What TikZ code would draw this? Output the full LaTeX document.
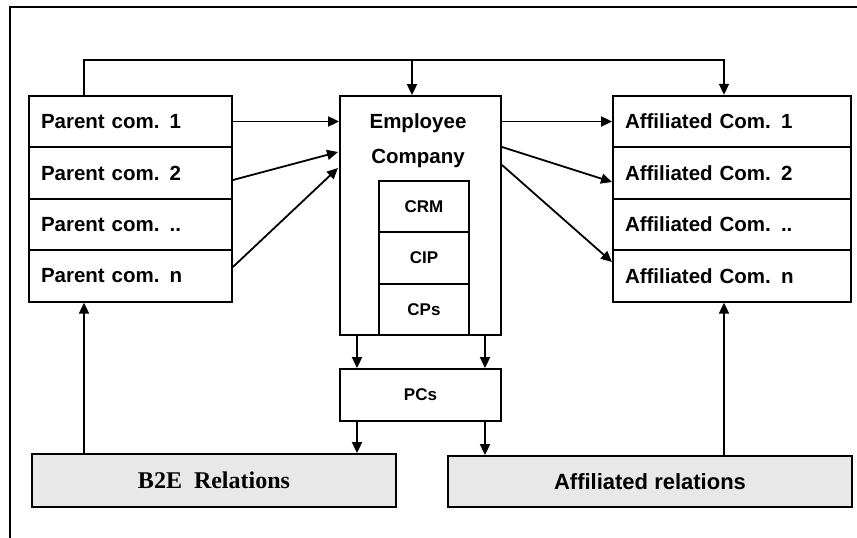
\documentclass[tikz,border=0pt]{standalone}
\usepackage{fontspec}
\setmainfont{Liberation Sans}
\newfontfamily\serifbold{Liberation Serif}
\usetikzlibrary{arrows.meta}
\begin{document}
\begin{tikzpicture}[x=1pt,y=-1pt,
  line width=1.8pt,
  arr/.style={-{Triangle[length=11pt,width=10pt]}},
  rowbox/.style={draw,minimum height=51.5pt,inner xsep=12pt,inner ysep=0pt,align=left,font=\fontsize{20.5}{22}\selectfont\bfseries},
  cbox/.style={draw,inner sep=0pt,align=center,font=\fontsize{17}{19}\selectfont\bfseries},
  relbox/.style={draw,fill=gray!18,inner sep=0pt,font=\fontsize{22}{24}\selectfont\bfseries}]
\useasboundingbox (0,0) rectangle (857,538);
% outer frame (open at right and bottom)
\draw (10,538) -- (10,7) -- (857,7);
% left stack
\node[rowbox,text width=179pt] (L1) at (130.5,121.5) {Parent com. 1};
\node[rowbox,text width=179pt] (L2) at (130.5,173) {Parent com. 2};
\node[rowbox,text width=179pt] (L3) at (130.5,224.5) {Parent com. ..};
\node[rowbox,text width=179pt] (L4) at (130.5,276) {Parent com. n};
% right stack
\node[rowbox,text width=214pt] (R1) at (732,121.5) {Affiliated Com. 1};
\node[rowbox,text width=214pt] (R2) at (732,173) {Affiliated Com. 2};
\node[rowbox,text width=214pt] (R3) at (732,224.5) {Affiliated Com. ..};
\node[rowbox,text width=214pt] (R4) at (732,276) {Affiliated Com. n};
% employee company
\node[draw,minimum width=161pt,minimum height=239pt,inner sep=0pt] (Emp) at (420.5,215.5) {};
\node[font=\fontsize{20.5}{35}\selectfont\bfseries,align=center] (EmpT) at (418,141) {Employee\\Company};
\node[cbox,minimum width=90pt,minimum height=51.3pt] (C1) at (424,206.7) {CRM};
\node[cbox,minimum width=90pt,minimum height=51.3pt] (C2) at (424,258) {CIP};
\node[cbox,minimum width=90pt,minimum height=51.3pt] (C3) at (424,309.3) {CPs};
% ECs
\node[cbox,minimum width=161pt,minimum height=52pt] (EC) at (420.5,395) {PCs};
% relation boxes
\node[relbox,minimum width=364pt,minimum height=53pt] (B2E) at (214,480.5) {\serifbold\fontsize{24}{26}\selectfont B2E\ \ Relations};
\node[relbox,minimum width=404pt,minimum height=51pt] (AR) at (650,481.5) {Affiliated relations};
% top connector
\coordinate (tl) at (84,60);
\coordinate (tm) at (412,60);
\coordinate (tr) at (724,60);
\draw[arr] (L1.north -| tl) -- (tl) -- (tr) -- (R1.north -| tr);
\draw[arr] (tm) -- (tm |- Emp.north);
% parent -> employee
\coordinate (e2) at (338,152);
\coordinate (e3) at (338,168);
\draw[arr] (L1.east) -- (L1.east -| Emp.west);
\draw[arr] (L2.east) ++(0,7) -- (e2);
\draw[arr] (L4.east) ++(0,-9) -- (e3);
% employee -> affiliated
\coordinate (s2) at (502,147);
\coordinate (s3) at (502,165);
\coordinate (t2) at (612,182);
\coordinate (t3) at (612,262);
\draw[arr] (R1.west -| Emp.east) -- (R1.west);
\draw[arr] (s2) -- (t2);
\draw[arr] (s3) -- (t3);
% employee -> ECs
\coordinate (d1) at (357,0);
\coordinate (d2) at (485,0);
\draw[arr] (Emp.south -| d1) -- (EC.north -| d1);
\draw[arr] (Emp.south -| d2) -- (EC.north -| d2);
\draw[arr] (EC.south -| d1) -- (B2E.north -| d1);
\draw[arr] (EC.south -| d2) -- (AR.north -| d2);
% relations up
\draw[arr] (B2E.north -| tl) -- (L4.south -| tl);
\draw[arr] (AR.north -| tr) -- (R4.south -| tr);
\end{tikzpicture}
\end{document}
